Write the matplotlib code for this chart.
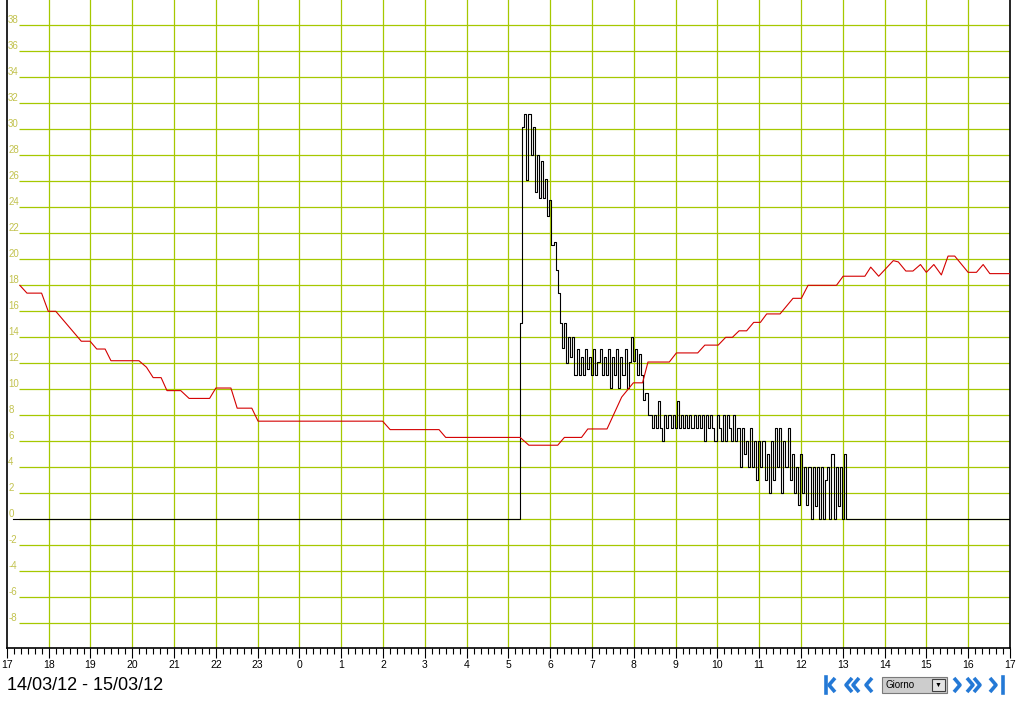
import numpy as np
import matplotlib
matplotlib.use('Agg')
import matplotlib.pyplot as plt
from matplotlib.lines import Line2D
from matplotlib.patches import Rectangle

plt.rcParams['font.family'] = ['Liberation Sans', 'DejaVu Sans']

# x axis: hours counted from 17:00 of 14/03/12 up to 17:00 of 15/03/12
hour_labels = ['17', '18', '19', '20', '21', '22', '23', '0', '1', '2', '3', '4',
               '5', '6', '7', '8', '9', '10', '11', '12', '13', '14', '15', '16', '17']
y_levels = [-8, -6, -4, -2, 0, 2, 4, 6, 8, 10, 12, 14, 16, 18, 20, 22, 24, 26,
            28, 30, 32, 34, 36, 38]
date_text = '14/03/12 - 15/03/12'
period_text = 'Giorno'

# red series (hours since 17:00, value)
red_t = [0.31, 0.48, 0.83, 0.99, 1.17, 1.78, 1.99, 2.15, 2.35, 2.49, 3.16, 3.34,
         3.50, 3.69, 3.83, 4.16, 4.36, 4.85, 5.00, 5.36, 5.51, 5.86, 6.01, 8.99,
         9.17, 10.34, 10.50, 12.28, 12.49, 13.18, 13.34, 13.75, 13.90, 14.36,
         14.71, 14.99, 15.21, 15.34, 15.85, 16.02, 16.53, 16.70, 17.02, 17.20,
         17.36, 17.52, 17.70, 17.87, 18.03, 18.18, 18.50, 18.81, 19.01, 19.17,
         19.85, 20.01, 20.53, 20.67, 20.86, 21.21, 21.33, 21.51, 21.68, 21.86,
         22.00, 22.18, 22.36, 22.52, 22.68, 23.00, 23.20, 23.36, 23.52, 24.00]
red_v = [18.0, 17.4, 17.4, 16.0, 16.0, 13.7, 13.7, 13.1, 13.1, 12.2, 12.2, 11.7,
         10.9, 10.9, 9.9, 9.9, 9.3, 9.3, 10.1, 10.1, 8.55, 8.55, 7.55, 7.55,
         6.9, 6.9, 6.3, 6.3, 5.7, 5.7, 6.3, 6.3, 6.95, 6.95,
         9.4, 10.5, 10.5, 12.1, 12.1, 12.8, 12.8, 13.4, 13.4, 14.0,
         14.0, 14.5, 14.5, 15.15, 15.15, 15.8, 15.8, 17.0, 17.0, 18.0,
         18.0, 18.7, 18.7, 19.4, 18.7, 19.9, 19.8, 19.1, 19.1, 19.6,
         19.0, 19.6, 18.8, 20.25, 20.25, 19.0, 19.0, 19.6, 18.9, 18.9]

# black series: zero until the start, then one reading every 3 minutes
black_start = 12.28
black_step = 0.05
black_v = [15.1, 30.2, 31.2, 26.1, 31.2, 28.0, 30.2, 25.2, 28.0, 24.7,
           27.6, 24.7, 26.2, 23.3, 24.6, 21.1, 21.3, 19.2, 17.4,
           15.1, 13.2, 15.1, 12.0, 14.0, 12.5, 14.0, 11.1,
           13.1, 11.1, 12.5, 11.1, 13.1, 11.6, 12.5, 11.1, 13.1, 11.1,
           12.1, 13.1, 11.1, 12.5, 11.1, 13.1, 10.1, 12.5, 11.1, 13.1,
           10.1, 12.5, 11.1, 13.1, 10.1, 12.1,
           14.0, 12.2, 13.1, 11.1, 12.7, 11.1, 9.2, 9.7, 8.0,
           8.0, 7.0, 8.0, 7.0, 9.1, 7.0, 6.0, 8.0, 7.0, 8.0, 7.0, 8.0,
           7.0, 9.1, 7.0, 8.0, 7.0, 8.0, 7.0, 8.0, 7.0, 8.0, 7.0,
           8.0, 7.0, 8.0, 6.0, 8.0, 7.0, 8.0, 7.0, 6.0, 8.0, 7.0, 6.0,
           8.0, 6.0, 8.0, 7.0, 6.0, 8.0, 6.0,
           7.0, 4.0, 7.0, 5.0, 6.0, 4.0, 7.0, 4.0, 6.0,
           3.0, 6.0, 4.0, 6.0, 3.0, 5.0, 2.0, 6.0,
           3.0, 7.0, 4.0, 7.0, 2.0, 6.0, 4.0, 7.0, 3.0,
           5.0, 2.0, 4.0, 1.1, 5.0, 2.0, 4.0, 1.1, 4.0,
           0.0, 4.0, 1.0, 4.0, 0.0, 4.0, 0.0, 3.0, 4.0, 0.0, 5.0, 0.0,
           4.0, 1.0, 4.0, 0.0, 5.0]

W, H = 1018, 702
fig = plt.figure(figsize=(W / 100, H / 100), dpi=100)
fig.patch.set_facecolor('white')
ax = fig.add_axes([6.9 / W, 1 - 648 / H, 1003 / W, 648 / H])

grid_col = '#a6c800'
label_col = '#c2c24e'

n_hours = len(hour_labels) - 1
ax.set_xlim(0, n_hours)
ax.set_ylim(-9.9, 39.95)

# grid
for h in range(1, n_hours):
    ax.axvline(h, color=grid_col, lw=0.9, zorder=1)
for lv in y_levels:
    ax.hlines(lv, 0.3, n_hours, color=grid_col, lw=0.9, zorder=1)
    ax.text(0.03, lv, str(lv), color=label_col, fontsize=7, ha='left',
            va='bottom', zorder=2)

# black series
bt = black_start + black_step * np.arange(len(black_v))
black_x = np.concatenate([[0.15], bt, [bt[-1] + black_step, n_hours]])
black_y = np.concatenate([[0], black_v, [0, 0]])
ax.plot(black_x, black_y, color='black', lw=0.8, drawstyle='steps-post', zorder=3)

# red series
ax.plot(red_t, red_v, color='#d40000', lw=0.8, zorder=4)

# axes frame
ax.spines['top'].set_visible(False)
for s in ['left', 'right', 'bottom']:
    ax.spines[s].set_linewidth(1.2)
ax.set_yticks([])
ax.set_xticks(range(n_hours + 1))
ax.set_xticklabels(hour_labels, fontsize=7.5)
ax.set_xticks(np.arange(0, n_hours, 1 / 6), minor=True)
ax.tick_params(axis='x', which='major', length=7, width=0.8, pad=2)
ax.tick_params(axis='x', which='minor', length=4, width=0.8)

# footer
fig.text(7 / W, 1 - 685 / H, date_text, fontsize=13, ha='left', va='center')

nav_col = '#2479d6'


def px(x, y):
    return x / W, 1 - y / H


def chevron(x_tip, direction, y0=678, y1=692, w=6):
    xb = x_tip + w if direction == 'left' else x_tip - w
    xs, ys = zip(px(xb, y0), px(x_tip, (y0 + y1) / 2), px(xb, y1))
    fig.add_artist(Line2D(xs, ys, color=nav_col, lw=2.6, solid_capstyle='butt'))


def bar(x, y0=677, y1=693):
    xs, ys = zip(px(x, y0), px(x, y1))
    fig.add_artist(Line2D(xs, ys, color=nav_col, lw=2.6))


bar(826)
chevron(829, 'left')
chevron(846, 'left')
chevron(853, 'left')
chevron(866, 'left')
chevron(960, 'right')
chevron(973, 'right')
chevron(980, 'right')
chevron(996, 'right')
bar(1003)

x0, y0 = px(882, 693)
fig.add_artist(Rectangle((x0, y0), 65 / W, 16 / H, transform=fig.transFigure,
                         facecolor='#cdcdcd', edgecolor='#7a7a7a', lw=0.8))
x1, y1 = px(932, 691)
fig.add_artist(Rectangle((x1, y1), 13 / W, 12 / H, transform=fig.transFigure,
                         facecolor='#e4e4e4', edgecolor='#404040', lw=0.8))
fig.text(*px(886, 685.5), period_text, fontsize=7, ha='left', va='center')
fig.text(*px(938.5, 685), '\u25BC', fontsize=5, ha='center', va='center')

fig.savefig('out.png', dpi=100)
